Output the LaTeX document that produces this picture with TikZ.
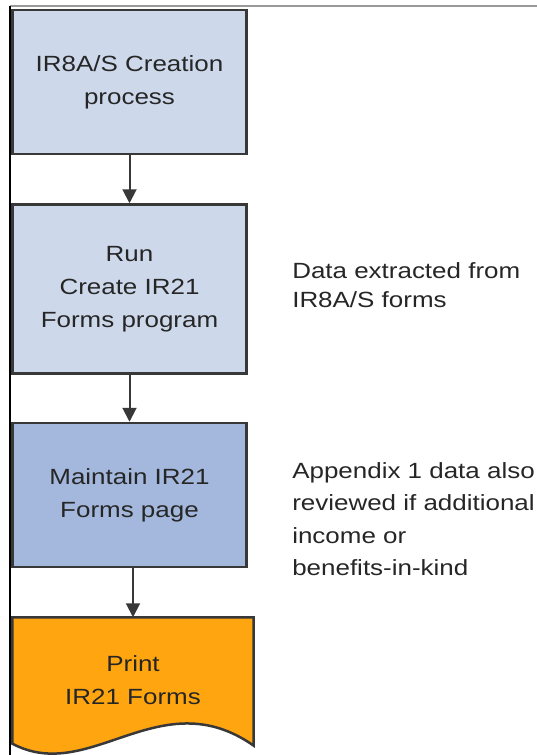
\documentclass[tikz,border=0pt]{standalone}
\usepackage{fontspec}
\setmainfont{Liberation Sans}[FakeStretch=1.18]
\usepackage{xcolor}
\usetikzlibrary{positioning,arrows.meta,backgrounds}
\definecolor{lightblue}{HTML}{CDD9EB}
\definecolor{midblue}{HTML}{A3B8DC}
\definecolor{printorange}{HTML}{FFA510}
\definecolor{edgegray}{HTML}{383838}

\begin{document}
\begin{tikzpicture}[x=1pt, y=-1pt, node distance=48pt,
  font=\fontsize{22}{33}\selectfont, text=black!85,
  stepbox/.style={draw=edgegray, line width=2.5pt, rectangle, align=center, minimum width=234pt},
  flow/.style={-{Triangle[length=14pt,width=14pt]}, line width=2pt, draw=edgegray},
  note/.style={align=left, anchor=west, font=\fontsize{22}{32.5}\selectfont}]
\useasboundingbox (0,0) rectangle (537,755);
% frame
\draw[gray!80, line width=1.2pt] (10,6) -- (537,6);
\draw[black, line width=1.2pt] (10,6) -- (10,755);

\node[stepbox, fill=lightblue, minimum height=144pt] (creation) at (129.5,82) {IR8A/S Creation\\process};
\node[stepbox, fill=lightblue, minimum height=169pt, below=of creation] (runprog) {Run\\Create IR21\\Forms program};
\node[stepbox, fill=midblue, minimum height=144pt, below=47pt of runprog] (maintain) {Maintain IR21\\Forms page};
\node[align=center, minimum width=241pt, minimum height=126pt, below=49pt of maintain, xshift=3.5pt, inner sep=0pt] (print) {Print\\IR21 Forms};

% document shape behind the text
\begin{scope}[on background layer]
\draw[edgegray, line width=2.5pt, fill=printorange] (print.north west) -- (print.north east) -- ([yshift=-2pt]print.south east)
  .. controls (160,680) and (90,785) .. (print.south west) -- cycle;
\end{scope}

\node[note, font=\fontsize{22}{29.5}\selectfont, right=41pt of runprog.east, anchor=west, yshift=4pt] (extracted) {Data extracted from\\IR8A/S forms};
\node[note, right=41pt of maintain.east, anchor=west, yshift=-24pt] (appendix) {Appendix 1 data also\\reviewed if additional\\income or\\benefits-in-kind};

\draw[flow] (creation) -- (runprog);
\draw[flow] (runprog) -- (maintain);
\draw[flow] (maintain.south -| print.north) -- (print.north);
\end{tikzpicture}
\end{document}
